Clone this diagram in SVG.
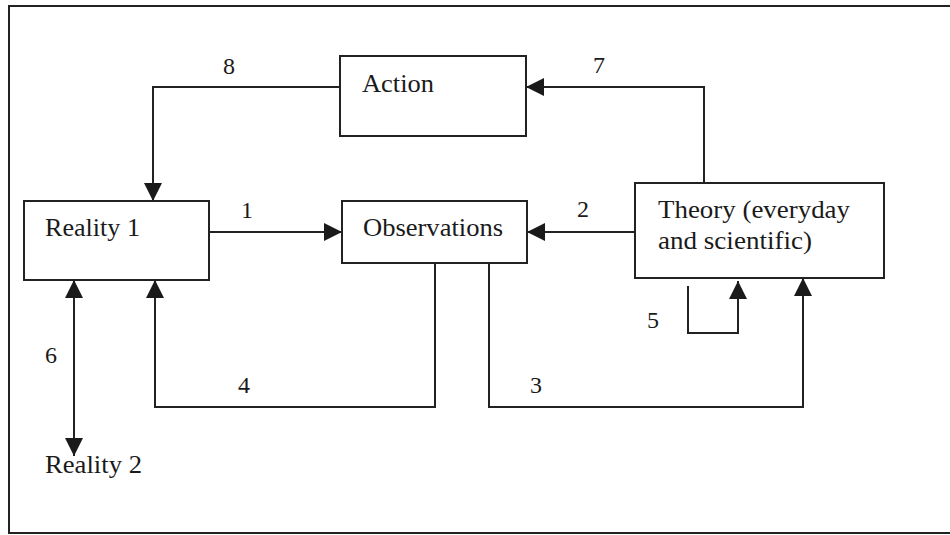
<svg xmlns="http://www.w3.org/2000/svg" width="950" height="535" viewBox="0 0 950 535">
<style>
.box{fill:#fff;stroke:#222;stroke-width:2}
.frame{fill:none;stroke:#222;stroke-width:2}
.c{fill:none;stroke:#222;stroke-width:2}
text{font-family:"Liberation Serif","Times New Roman",serif;font-size:25px;fill:#1a1a1a}
.n{font-size:24px}
</style>
<defs>
<marker id="arr" viewBox="0 0 18 18" refX="18" refY="9" markerWidth="18" markerHeight="18" orient="auto-start-reverse" markerUnits="userSpaceOnUse">
<path d="M0,0 L18,9 L0,18 z" fill="#1a1a1a"/>
</marker>
</defs>
<rect width="950" height="535" fill="#fff"/>
<path class="frame" d="M960,6 H9 V533 H960"/>
<g id="connectors">
<path class="c" d="M340,87 H153 V201" marker-end="url(#arr)"/>
<path class="c" d="M704,183 V87 H526" marker-end="url(#arr)"/>
<path class="c" d="M203,232 H342" marker-end="url(#arr)"/>
<path class="c" d="M635,232 H527" marker-end="url(#arr)"/>
<path class="c" d="M435,263 V407 H155 V280" marker-end="url(#arr)"/>
<path class="c" d="M489,263 V407 H803 V278" marker-end="url(#arr)"/>
<path class="c" d="M688,286 V333 H738 V281" marker-end="url(#arr)"/>
<path class="c" d="M74,280 V456" marker-start="url(#arr)" marker-end="url(#arr)"/>
<text class="n" x="223" y="74">8</text>
<text class="n" x="593" y="73">7</text>
<text class="n" x="241" y="218">1</text>
<text class="n" x="577" y="217">2</text>
<text class="n" x="530" y="393">3</text>
<text class="n" x="238" y="393">4</text>
<text class="n" x="647" y="328">5</text>
<text class="n" x="45" y="363">6</text>
</g>
<g id="action">
<rect class="box" x="340" y="56" width="186" height="80"/>
<text x="362" y="92" textLength="72" lengthAdjust="spacingAndGlyphs">Action</text>
</g>
<g id="reality1">
<rect class="box" x="24" y="201" width="185" height="79"/>
<text x="45" y="236" textLength="95" lengthAdjust="spacingAndGlyphs">Reality 1</text>
</g>
<g id="observations">
<rect class="box" x="342" y="201" width="185" height="62"/>
<text x="363" y="236" textLength="140" lengthAdjust="spacingAndGlyphs">Observations</text>
</g>
<g id="theory">
<rect class="box" x="635" y="183" width="249" height="95"/>
<text x="658" y="218" textLength="192" lengthAdjust="spacingAndGlyphs">Theory (everyday</text>
<text x="658" y="249" textLength="154" lengthAdjust="spacingAndGlyphs">and scientific)</text>
</g>
<g id="reality2">
<text x="45" y="473" textLength="97" lengthAdjust="spacingAndGlyphs">Reality 2</text>
</g>
</svg>
